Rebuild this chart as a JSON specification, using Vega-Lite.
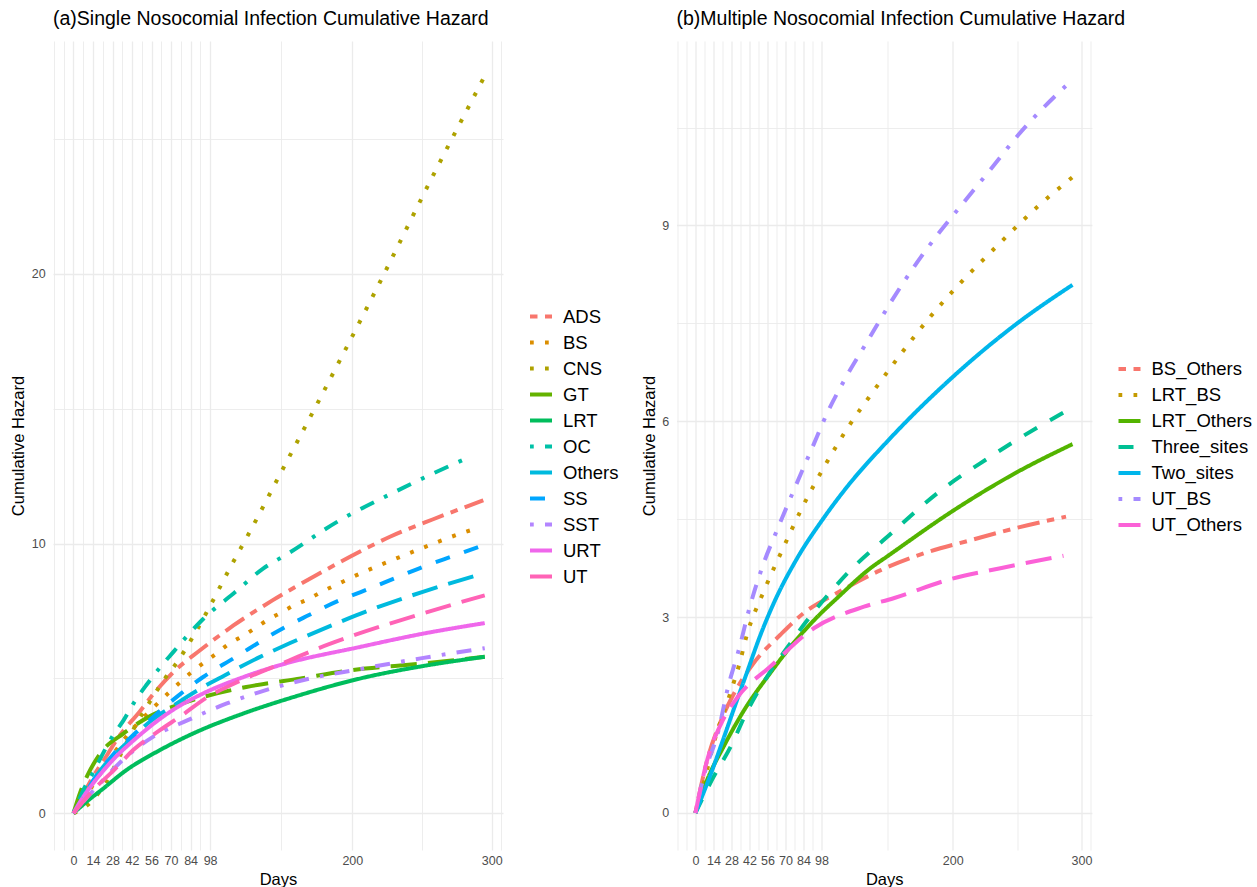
{
  "$schema": "https://vega.github.io/schema/vega-lite/v6.json",
  "padding": {"left": 10, "top": 8, "right": 0, "bottom": 0},
  "config": {
    "view": {"stroke": null},
    "font": "Liberation Sans",
    "axis": {"domain": false, "ticks": false, "gridColor": "#EBEBEB", "labelColor": "#4D4D4D", "labelFont": "Liberation Sans", "labelFontSize": 12.5, "titleFont": "Liberation Sans", "titleFontSize": 16.5, "titleFontWeight": "normal", "titleColor": "#000000", "labelOverlap": false, "labelFlush": false},
    "axisX": {"labelPadding": 4.5, "titlePadding": 4.5},
    "axisY": {"labelPadding": 7.8, "titlePadding": 4.5},
    "legend": {"title": null, "labelFont": "Liberation Sans", "labelFontSize": 18.5, "labelColor": "#000000", "symbolType": "stroke", "symbolSize": 484, "symbolStrokeWidth": 4, "labelOffset": 9, "clipHeight": 26, "rowPadding": 0},
    "title": {"font": "Liberation Sans", "fontSize": 19.5, "fontWeight": "normal", "color": "#000000", "anchor": "start", "frame": "group", "offset": 12}
  },
  "datasets": {
    "a": [
      {"s":"ADS","d":0,"v":0},{"s":"ADS","d":7,"v":0.7},{"s":"ADS","d":14,"v":1.35},{"s":"ADS","d":24,"v":2.15},{"s":"ADS","d":32,"v":2.8},{"s":"ADS","d":48,"v":3.8},{"s":"ADS","d":57,"v":4.4},{"s":"ADS","d":71,"v":5.2},{"s":"ADS","d":91,"v":6.05},{"s":"ADS","d":115,"v":6.97},{"s":"ADS","d":143,"v":7.9},{"s":"ADS","d":175,"v":8.85},{"s":"ADS","d":198,"v":9.5},{"s":"ADS","d":227,"v":10.25},{"s":"ADS","d":258,"v":10.9},{"s":"ADS","d":294,"v":11.6},
      {"s":"BS","d":0,"v":0},{"s":"BS","d":7,"v":0.5},{"s":"BS","d":14,"v":1.05},{"s":"BS","d":21,"v":1.6},{"s":"BS","d":28,"v":2.15},{"s":"BS","d":42,"v":3.1},{"s":"BS","d":56,"v":3.85},{"s":"BS","d":70,"v":4.55},{"s":"BS","d":84,"v":5.2},{"s":"BS","d":94,"v":5.6},{"s":"BS","d":103,"v":5.94},{"s":"BS","d":111,"v":6.26},{"s":"BS","d":121,"v":6.56},{"s":"BS","d":130,"v":6.85},{"s":"BS","d":139,"v":7.16},{"s":"BS","d":149,"v":7.44},{"s":"BS","d":158,"v":7.7},{"s":"BS","d":169,"v":7.95},{"s":"BS","d":178,"v":8.21},{"s":"BS","d":189,"v":8.48},{"s":"BS","d":199,"v":8.73},{"s":"BS","d":239,"v":9.6},{"s":"BS","d":280,"v":10.41},{"s":"BS","d":291,"v":10.59},
      {"s":"CNS","d":0,"v":0},{"s":"CNS","d":10,"v":0.3},{"s":"CNS","d":18,"v":0.75},{"s":"CNS","d":24,"v":1.2},{"s":"CNS","d":34,"v":2.2},{"s":"CNS","d":45,"v":3.3},{"s":"CNS","d":55,"v":4.15},{"s":"CNS","d":65,"v":4.95},{"s":"CNS","d":75,"v":5.65},{"s":"CNS","d":86,"v":6.57},{"s":"CNS","d":97,"v":7.59},{"s":"CNS","d":112,"v":9.07},{"s":"CNS","d":128,"v":10.58},{"s":"CNS","d":148.5,"v":12.6},{"s":"CNS","d":174,"v":15.1},{"s":"CNS","d":219.5,"v":19.66},{"s":"CNS","d":256,"v":23.45},{"s":"CNS","d":294,"v":27.24},
      {"s":"GT","d":0,"v":0},{"s":"GT","d":5,"v":0.8},{"s":"GT","d":10,"v":1.4},{"s":"GT","d":19,"v":2.2},{"s":"GT","d":36,"v":2.96},{"s":"GT","d":55,"v":3.6},{"s":"GT","d":77,"v":4.05},{"s":"GT","d":93,"v":4.31},{"s":"GT","d":124,"v":4.68},{"s":"GT","d":163,"v":5.0},{"s":"GT","d":199,"v":5.3},{"s":"GT","d":250,"v":5.55},{"s":"GT","d":295,"v":5.8},
      {"s":"LRT","d":0,"v":0},{"s":"LRT","d":10,"v":0.45},{"s":"LRT","d":21,"v":0.9},{"s":"LRT","d":38,"v":1.6},{"s":"LRT","d":62,"v":2.34},{"s":"LRT","d":86,"v":2.96},{"s":"LRT","d":122,"v":3.7},{"s":"LRT","d":158,"v":4.31},{"s":"LRT","d":206,"v":5.0},{"s":"LRT","d":250,"v":5.45},{"s":"LRT","d":295,"v":5.8},
      {"s":"OC","d":0,"v":0},{"s":"OC","d":7,"v":0.85},{"s":"OC","d":14,"v":1.5},{"s":"OC","d":21,"v":2.2},{"s":"OC","d":28,"v":2.85},{"s":"OC","d":36,"v":3.45},{"s":"OC","d":44,"v":4.15},{"s":"OC","d":53,"v":4.8},{"s":"OC","d":62,"v":5.4},{"s":"OC","d":72,"v":6.0},{"s":"OC","d":82,"v":6.6},{"s":"OC","d":93,"v":7.2},{"s":"OC","d":116,"v":8.2},{"s":"OC","d":136,"v":9.07},{"s":"OC","d":153,"v":9.6},{"s":"OC","d":191,"v":10.86},{"s":"OC","d":203,"v":11.2},{"s":"OC","d":230,"v":11.9},{"s":"OC","d":258,"v":12.6},{"s":"OC","d":286,"v":13.25},
      {"s":"Others","d":0,"v":0},{"s":"Others","d":7,"v":0.6},{"s":"Others","d":14,"v":1.2},{"s":"Others","d":21,"v":1.7},{"s":"Others","d":38,"v":2.6},{"s":"Others","d":55,"v":3.4},{"s":"Others","d":72,"v":4.0},{"s":"Others","d":93,"v":4.68},{"s":"Others","d":108,"v":5.1},{"s":"Others","d":132,"v":5.75},{"s":"Others","d":155,"v":6.3},{"s":"Others","d":186,"v":6.98},{"s":"Others","d":206,"v":7.4},{"s":"Others","d":250,"v":8.2},{"s":"Others","d":294,"v":8.89},
      {"s":"SS","d":0,"v":0},{"s":"SS","d":7,"v":0.6},{"s":"SS","d":14,"v":1.2},{"s":"SS","d":28,"v":2.15},{"s":"SS","d":45,"v":3.0},{"s":"SS","d":60,"v":3.7},{"s":"SS","d":75,"v":4.35},{"s":"SS","d":93,"v":5.05},{"s":"SS","d":115,"v":5.75},{"s":"SS","d":150,"v":6.85},{"s":"SS","d":167,"v":7.3},{"s":"SS","d":191,"v":7.9},{"s":"SS","d":206,"v":8.2},{"s":"SS","d":230,"v":8.7},{"s":"SS","d":249,"v":9.1},{"s":"SS","d":273,"v":9.55},{"s":"SS","d":294,"v":9.94},
      {"s":"SST","d":0,"v":0},{"s":"SST","d":10,"v":0.6},{"s":"SST","d":21,"v":1.22},{"s":"SST","d":38,"v":2.1},{"s":"SST","d":57,"v":2.83},{"s":"SST","d":82,"v":3.45},{"s":"SST","d":110,"v":4.07},{"s":"SST","d":134,"v":4.5},{"s":"SST","d":170,"v":5.0},{"s":"SST","d":201,"v":5.3},{"s":"SST","d":250,"v":5.75},{"s":"SST","d":295,"v":6.12},
      {"s":"URT","d":0,"v":0},{"s":"URT","d":7,"v":0.6},{"s":"URT","d":14,"v":1.1},{"s":"URT","d":26,"v":1.85},{"s":"URT","d":46,"v":2.83},{"s":"URT","d":69,"v":3.75},{"s":"URT","d":93,"v":4.44},{"s":"URT","d":122,"v":5.05},{"s":"URT","d":148,"v":5.49},{"s":"URT","d":206,"v":6.17},{"s":"URT","d":250,"v":6.65},{"s":"URT","d":295,"v":7.05},
      {"s":"UT","d":0,"v":0},{"s":"UT","d":14,"v":0.85},{"s":"UT","d":29,"v":1.6},{"s":"UT","d":43,"v":2.35},{"s":"UT","d":62,"v":3.08},{"s":"UT","d":77,"v":3.6},{"s":"UT","d":96,"v":4.3},{"s":"UT","d":115,"v":4.8},{"s":"UT","d":155,"v":5.67},{"s":"UT","d":172,"v":6.04},{"s":"UT","d":198,"v":6.54},{"s":"UT","d":250,"v":7.4},{"s":"UT","d":295,"v":8.08}
    ],
    "b": [
      {"s":"BS_Others","d":0,"v":0},{"s":"BS_Others","d":9,"v":0.8},{"s":"BS_Others","d":20,"v":1.42},{"s":"BS_Others","d":30,"v":1.83},{"s":"BS_Others","d":45,"v":2.29},{"s":"BS_Others","d":66,"v":2.73},{"s":"BS_Others","d":84,"v":3.06},{"s":"BS_Others","d":110,"v":3.37},{"s":"BS_Others","d":144,"v":3.72},{"s":"BS_Others","d":178,"v":3.98},{"s":"BS_Others","d":214,"v":4.18},{"s":"BS_Others","d":248,"v":4.36},{"s":"BS_Others","d":288,"v":4.54},
      {"s":"LRT_BS","d":0,"v":0},{"s":"LRT_BS","d":7,"v":0.5},{"s":"LRT_BS","d":14,"v":1.05},{"s":"LRT_BS","d":27,"v":1.83},{"s":"LRT_BS","d":34,"v":2.27},{"s":"LRT_BS","d":40,"v":2.73},{"s":"LRT_BS","d":53,"v":3.39},{"s":"LRT_BS","d":68,"v":4.05},{"s":"LRT_BS","d":83,"v":4.68},{"s":"LRT_BS","d":100,"v":5.3},{"s":"LRT_BS","d":118,"v":5.89},{"s":"LRT_BS","d":139,"v":6.48},{"s":"LRT_BS","d":160,"v":7.04},{"s":"LRT_BS","d":182,"v":7.59},{"s":"LRT_BS","d":206,"v":8.12},{"s":"LRT_BS","d":231,"v":8.62},{"s":"LRT_BS","d":266,"v":9.29},{"s":"LRT_BS","d":293,"v":9.74},
      {"s":"LRT_Others","d":0,"v":0},{"s":"LRT_Others","d":9,"v":0.5},{"s":"LRT_Others","d":22,"v":1.02},{"s":"LRT_Others","d":38,"v":1.58},{"s":"LRT_Others","d":58,"v":2.14},{"s":"LRT_Others","d":74,"v":2.55},{"s":"LRT_Others","d":95,"v":3.01},{"s":"LRT_Others","d":110,"v":3.29},{"s":"LRT_Others","d":136,"v":3.75},{"s":"LRT_Others","d":149,"v":3.93},{"s":"LRT_Others","d":201,"v":4.64},{"s":"LRT_Others","d":248,"v":5.2},{"s":"LRT_Others","d":293,"v":5.65},
      {"s":"Three_sites","d":0,"v":0},{"s":"Three_sites","d":14,"v":0.55},{"s":"Three_sites","d":27,"v":1.0},{"s":"Three_sites","d":40,"v":1.55},{"s":"Three_sites","d":58,"v":2.16},{"s":"Three_sites","d":72,"v":2.55},{"s":"Three_sites","d":86,"v":2.93},{"s":"Three_sites","d":103,"v":3.34},{"s":"Three_sites","d":118,"v":3.67},{"s":"Three_sites","d":152,"v":4.28},{"s":"Three_sites","d":188,"v":4.9},{"s":"Three_sites","d":227,"v":5.43},{"s":"Three_sites","d":267,"v":5.92},{"s":"Three_sites","d":293,"v":6.21},
      {"s":"Two_sites","d":0,"v":0},{"s":"Two_sites","d":12,"v":0.6},{"s":"Two_sites","d":22,"v":1.15},{"s":"Two_sites","d":30,"v":1.6},{"s":"Two_sites","d":40,"v":2.15},{"s":"Two_sites","d":50,"v":2.7},{"s":"Two_sites","d":61,"v":3.22},{"s":"Two_sites","d":79,"v":3.9},{"s":"Two_sites","d":99,"v":4.5},{"s":"Two_sites","d":118,"v":5.0},{"s":"Two_sites","d":149,"v":5.69},{"s":"Two_sites","d":200,"v":6.68},{"s":"Two_sites","d":250,"v":7.5},{"s":"Two_sites","d":293,"v":8.09},
      {"s":"UT_BS","d":0,"v":0},{"s":"UT_BS","d":7,"v":0.6},{"s":"UT_BS","d":18,"v":1.27},{"s":"UT_BS","d":25,"v":1.9},{"s":"UT_BS","d":34,"v":2.52},{"s":"UT_BS","d":42,"v":3.14},{"s":"UT_BS","d":52,"v":3.77},{"s":"UT_BS","d":64,"v":4.36},{"s":"UT_BS","d":77,"v":4.97},{"s":"UT_BS","d":90,"v":5.56},{"s":"UT_BS","d":103,"v":6.15},{"s":"UT_BS","d":118,"v":6.71},{"s":"UT_BS","d":135,"v":7.27},{"s":"UT_BS","d":152,"v":7.83},{"s":"UT_BS","d":170,"v":8.37},{"s":"UT_BS","d":189,"v":8.88},{"s":"UT_BS","d":210,"v":9.39},{"s":"UT_BS","d":231,"v":9.9},{"s":"UT_BS","d":251,"v":10.39},{"s":"UT_BS","d":290,"v":11.18},
      {"s":"UT_Others","d":0,"v":0},{"s":"UT_Others","d":9,"v":0.8},{"s":"UT_Others","d":20,"v":1.37},{"s":"UT_Others","d":33,"v":1.78},{"s":"UT_Others","d":58,"v":2.24},{"s":"UT_Others","d":92,"v":2.83},{"s":"UT_Others","d":131,"v":3.16},{"s":"UT_Others","d":154,"v":3.29},{"s":"UT_Others","d":196,"v":3.57},{"s":"UT_Others","d":237,"v":3.75},{"s":"UT_Others","d":286,"v":3.94}
    ]
  },
  "spacing": 21.5,
  "resolve": {"scale": {"color": "independent", "strokeDash": "independent", "x": "independent", "y": "independent"}},
  "hconcat": [
    {
      "width": 450,
      "height": 809,
      "title": {"text": "(a)Single Nosocomial Infection Cumulative Hazard"},
      "data": {"name": "a"},
      "mark": {"type": "line", "strokeWidth": 4, "strokeCap": "butt", "interpolate": "monotone", "clip": true},
      "encoding": {
        "x": {"field": "d", "type": "quantitative", "scale": {"domain": [-14.7, 308.1], "nice": false, "zero": false},
          "axis": {"title": "Days", "values": [-14,-7,0,7,14,21,28,35,42,49,56,63,70,77,84,91,98,149,200,250,300,307],
            "labelExpr": "indexof([0,14,28,42,56,70,84,98,200,300], datum.value) >= 0 ? datum.label : ''",
            "gridWidth": {"condition": {"test": "indexof([0,14,28,42,56,70,84,98,200,300], datum.value) >= 0", "value": 1.3}, "value": 0.9}}},
        "y": {"field": "v", "type": "quantitative", "scale": {"domain": [-1.365, 28.635], "nice": false, "zero": false},
          "axis": {"title": "Cumulative Hazard", "values": [0,5,10,15,20,25],
            "labelExpr": "indexof([0,10,20], datum.value) >= 0 ? datum.label : ''",
            "gridWidth": {"condition": {"test": "indexof([0,10,20], datum.value) >= 0", "value": 1.3}, "value": 0.9}}},
        "color": {"field": "s", "type": "nominal",
          "scale": {"domain": ["ADS","BS","CNS","GT","LRT","OC","Others","SS","SST","URT","UT"],
            "range": ["#F8766D","#DB8E00","#AEA200","#64B200","#00BD5C","#00C1A7","#00BADE","#00A6FF","#B385FF","#EF67EB","#FF63B6"]},
          "legend": {"orient": "none", "legendX": 475, "legendY": 262.5}},
        "strokeDash": {"field": "s", "type": "nominal",
          "scale": {"domain": ["ADS","BS","CNS","GT","LRT","OC","Others","SS","SST","URT","UT"],
            "range": [[7.5,7.5,22.5,7.5],[3.75,11.25],[3.75,11.25],[26.25,11.25],[1,0],[3.75,11.25,15,11.25],[26.25,11.25],[15,15],[3.75,11.25,15,11.25],[1,0],[26.25,11.25]]},
          "legend": {"orient": "none", "legendX": 475, "legendY": 262.5}}
      }
    },
    {
      "width": 415.4,
      "height": 809,
      "title": {"text": "(b)Multiple Nosocomial Infection Cumulative Hazard"},
      "data": {"name": "b"},
      "mark": {"type": "line", "strokeWidth": 4, "strokeCap": "butt", "interpolate": "monotone", "clip": true},
      "encoding": {
        "x": {"field": "d", "type": "quantitative", "scale": {"domain": [-14.7, 308.1], "nice": false, "zero": false},
          "axis": {"title": "Days", "values": [-14,-7,0,7,14,21,28,35,42,49,56,63,70,77,84,91,98,149,200,250,300,307],
            "labelExpr": "indexof([0,14,28,42,56,70,84,98,200,300], datum.value) >= 0 ? datum.label : ''",
            "gridWidth": {"condition": {"test": "indexof([0,14,28,42,56,70,84,98,200,300], datum.value) >= 0", "value": 1.3}, "value": 0.9}}},
        "y": {"field": "v", "type": "quantitative", "scale": {"domain": [-0.567, 11.826], "nice": false, "zero": false},
          "axis": {"title": "Cumulative Hazard", "values": [0,1.5,3,4.5,6,7.5,9,10.5],
            "labelExpr": "indexof([0,3,6,9], datum.value) >= 0 ? datum.label : ''",
            "gridWidth": {"condition": {"test": "indexof([0,3,6,9], datum.value) >= 0", "value": 1.3}, "value": 0.9}}},
        "color": {"field": "s", "type": "nominal",
          "scale": {"domain": ["BS_Others","LRT_BS","LRT_Others","Three_sites","Two_sites","UT_BS","UT_Others"],
            "range": ["#F8766D","#C49A00","#53B400","#00C094","#00B6EB","#A58AFF","#FB61D7"]},
          "legend": {"orient": "none", "legendX": 440, "legendY": 315}},
        "strokeDash": {"field": "s", "type": "nominal",
          "scale": {"domain": ["BS_Others","LRT_BS","LRT_Others","Three_sites","Two_sites","UT_BS","UT_Others"],
            "range": [[7.5,7.5,22.5,7.5],[3.75,11.25],[1,0],[15,15],[1,0],[3.75,11.25,15,11.25],[26.25,11.25]]},
          "legend": {"orient": "none", "legendX": 440, "legendY": 315}}
      }
    }
  ]
}
